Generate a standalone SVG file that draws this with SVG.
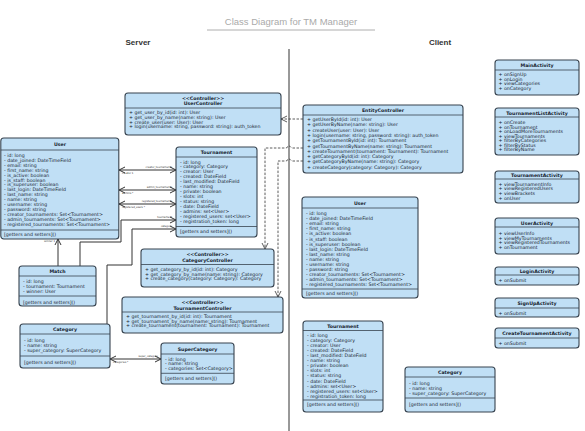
<svg xmlns="http://www.w3.org/2000/svg" width="585" height="431" viewBox="0 0 585 431">
<style>
.box{fill:#c0dff5;stroke:#37434f;stroke-width:1.1}
.sep{stroke:#37434f;stroke-width:0.8}
.t{font-family:"DejaVu Sans",sans-serif;font-size:4.7px;fill:#16222e}
.h{font-weight:bold;text-anchor:middle}
.rel{fill:none;stroke:#333;stroke-width:1}
.dep{fill:none;stroke:#333;stroke-width:0.8;stroke-dasharray:2.5,1.5}
.lbl{font-family:"DejaVu Sans Condensed","DejaVu Sans",sans-serif;font-size:2.8px;fill:#333}
</style>
<defs>
<marker id="oa" markerUnits="userSpaceOnUse" markerWidth="8" markerHeight="8" refX="6" refY="3" orient="auto-start-reverse" viewBox="-1 -1 8 8">
<path d="M0,0 L6,3 L0,6" fill="none" stroke="#333" stroke-width="1"/>
</marker>
<marker id="da" markerUnits="userSpaceOnUse" markerWidth="8" markerHeight="8" refX="6" refY="3" orient="auto" viewBox="-1 -1 8 8">
<path d="M0,0 L6,3 L0,6" fill="none" stroke="#333" stroke-width="0.8"/>
</marker>
</defs>
<rect width="585" height="431" fill="#fff"/>
<text x="291" y="25" text-anchor="middle" font-family="Liberation Sans, sans-serif" font-size="9.5" fill="#aaa">Class Diagram for TM Manager</text>
<line x1="207" y1="30" x2="375" y2="30" stroke="#999" stroke-width="0.8"/>
<text x="138" y="45" text-anchor="middle" font-family="Liberation Sans, sans-serif" font-size="8" font-weight="bold" fill="#333">Server</text>
<text x="440" y="45" text-anchor="middle" font-family="Liberation Sans, sans-serif" font-size="8" font-weight="bold" fill="#333">Client</text>
<line x1="289" y1="49" x2="289" y2="431" stroke="#333" stroke-width="1"/>

<g id="connectors">
<path class="rel" d="M119,170 H176" marker-start="url(#oa)" marker-end="url(#oa)"/>
<path class="rel" d="M119,190 H176" marker-start="url(#oa)" marker-end="url(#oa)"/>
<path class="rel" d="M119,204 H176" marker-start="url(#oa)" marker-end="url(#oa)"/>
<text class="lbl" x="172" y="168" text-anchor="end">creator_tournaments</text>
<text class="lbl" x="122" y="174">creator 1</text>
<text class="lbl" x="172" y="188" text-anchor="end">admin_tournaments</text>
<text class="lbl" x="122" y="194">admins *</text>
<text class="lbl" x="172" y="202" text-anchor="end">registered_tournaments</text>
<text class="lbl" x="122" y="208">registered_users *</text>
<path class="rel" d="M58,266 V239" marker-end="url(#oa)"/>
<text class="lbl" x="55" y="242" text-anchor="end">winner 1</text>
<path class="rel" d="M80,266 V242 H121 V220 H176" marker-end="url(#oa)"/>
<text class="lbl" x="172" y="218" text-anchor="end">tournament</text>
<path class="rel" d="M107,324 V265 H132 V229 H176" marker-end="url(#oa)"/>
<text class="lbl" x="172" y="227" text-anchor="end">category</text>
<path class="rel" d="M110,359 H161" marker-start="url(#oa)" marker-end="url(#oa)"/>
<text class="lbl" x="158" y="357" text-anchor="end">super_category</text>
<text class="lbl" x="113" y="363">categories *</text>
<path class="dep" d="M303,119 H281" marker-end="url(#da)"/>
<path class="dep" d="M303,148 H291.5 Q289,144 286.5,148 H265 V249" marker-end="url(#da)"/>
<path class="dep" d="M303,161 H291.5 Q289,157 286.5,161 H278 V297" marker-end="url(#da)"/>
</g>

<g id="UserController">
<rect class="box" x="125" y="93" width="156" height="42" rx="3"/>
<line class="sep" x1="125" y1="108" x2="281" y2="108"/>
<text class="t h" x="203" y="99.5" font-weight="normal">&lt;&lt;Controller&gt;&gt;</text>
<text class="t h" x="203" y="105">UserController</text>
<text class="t" x="129" y="114">+ get_user_by_id(id: int): User</text>
<text class="t" x="129" y="118.8">+ get_user_by_name(name: string): User</text>
<text class="t" x="129" y="123.6">+ create_user(user: User): User</text>
<text class="t" x="129" y="128.4">+ login(username: string, password: string): auth_token</text>
</g>

<g id="User_server">
<rect class="box" x="0.8" y="138" width="118" height="101" rx="3"/>
<line class="sep" x1="0.8" y1="150" x2="118.8" y2="150"/>
<line class="sep" x1="0.8" y1="230" x2="118.8" y2="230"/>
<text class="t h" x="60" y="146">User</text>
<text class="t" x="4" y="156.8">- id: long</text>
<text class="t" x="4" y="161.7">- date_joined: DateTimeField</text>
<text class="t" x="4" y="166.7">- email: string</text>
<text class="t" x="4" y="171.6">- first_name: string</text>
<text class="t" x="4" y="176.5">- is_active: boolean</text>
<text class="t" x="4" y="181.5">- is_staff: boolean</text>
<text class="t" x="4" y="186.4">- is_superuser: boolean</text>
<text class="t" x="4" y="191.3">- last_login: DateTimeField</text>
<text class="t" x="4" y="196.2">- last_name: string</text>
<text class="t" x="4" y="201.2">- name: string</text>
<text class="t" x="4" y="206.1">- username: string</text>
<text class="t" x="4" y="211">- password: string</text>
<text class="t" x="4" y="216">- creator_tournaments: Set&lt;Tournament&gt;</text>
<text class="t" x="4" y="220.9">- admin_tournaments: Set&lt;Tournament&gt;</text>
<text class="t" x="4" y="225.8">- registered_tournaments: Set&lt;Tournament&gt;</text>
<text class="t" x="4" y="236">[getters and setters]()</text>
</g>

<g id="Tournament_server">
<rect class="box" x="176" y="147" width="81" height="90" rx="3"/>
<line class="sep" x1="176" y1="157" x2="257" y2="157"/>
<line class="sep" x1="176" y1="226.5" x2="257" y2="226.5"/>
<text class="t h" x="216.5" y="154">Tournament</text>
<text class="t" x="180" y="163.5">- id: long</text>
<text class="t" x="180" y="168.4">- category: Category</text>
<text class="t" x="180" y="173.4">- creator: User</text>
<text class="t" x="180" y="178.3">- created: DateField</text>
<text class="t" x="180" y="183.3">- last_modified: DateField</text>
<text class="t" x="180" y="188.2">- name: string</text>
<text class="t" x="180" y="193.1">- private: boolean</text>
<text class="t" x="180" y="198.1">- slots: int</text>
<text class="t" x="180" y="203">- status: string</text>
<text class="t" x="180" y="208">- date: DateField</text>
<text class="t" x="180" y="212.9">- admins: set&lt;User&gt;</text>
<text class="t" x="180" y="217.8">- registered_users: set&lt;User&gt;</text>
<text class="t" x="180" y="222.8">- registration_token: long</text>
<text class="t" x="180" y="232.5">[getters and setters]()</text>
</g>

<g id="CategoryController">
<rect class="box" x="141" y="249" width="133" height="38" rx="3"/>
<line class="sep" x1="141" y1="264.5" x2="274" y2="264.5"/>
<text class="t h" x="207.5" y="255.8" font-weight="normal">&lt;&lt;Controller&gt;&gt;</text>
<text class="t h" x="207.5" y="261.8">CategoryController</text>
<text class="t" x="145" y="271">+ get_category_by_id(id: int): Category</text>
<text class="t" x="145" y="275.7">+ get_category_by_name(name: string): Category</text>
<text class="t" x="145" y="280.4">+ create_category(category: Category): Category</text>
</g>

<g id="TournamentController">
<rect class="box" x="122" y="297" width="161" height="36" rx="3"/>
<line class="sep" x1="122" y1="312" x2="283" y2="312"/>
<text class="t h" x="202.5" y="303.5" font-weight="normal">&lt;&lt;Controller&gt;&gt;</text>
<text class="t h" x="202.5" y="309.5">TournamentController</text>
<text class="t" x="126" y="318">+ get_tournament_by_id(id: int): Tournament</text>
<text class="t" x="126" y="322.7">+ get_tournament_by_name(name: string): Tournament</text>
<text class="t" x="126" y="327.4">+ create_tournament(tournament: Tournament): Tournament</text>
</g>

<g id="Match">
<rect class="box" x="19" y="266" width="77" height="40" rx="3"/>
<line class="sep" x1="19" y1="276" x2="96" y2="276"/>
<line class="sep" x1="19" y1="296" x2="96" y2="296"/>
<text class="t h" x="57.5" y="272.8">Match</text>
<text class="t" x="23" y="282.8">- id: long</text>
<text class="t" x="23" y="287.8">- tournament: Tournament</text>
<text class="t" x="23" y="292.8">- winner: User</text>
<text class="t" x="23" y="303.5">[getters and setters]()</text>
</g>

<g id="Category_server">
<rect class="box" x="20" y="324" width="90" height="44" rx="3"/>
<line class="sep" x1="20" y1="334" x2="110" y2="334"/>
<line class="sep" x1="20" y1="356" x2="110" y2="356"/>
<text class="t h" x="65" y="330.8">Category</text>
<text class="t" x="24" y="341.8">- id: long</text>
<text class="t" x="24" y="346.8">- name: string</text>
<text class="t" x="24" y="351.8">- super_category: SuperCategory</text>
<text class="t" x="24" y="363.5">[getters and setters]()</text>
</g>

<g id="SuperCategory">
<rect class="box" x="161" y="343" width="73" height="41" rx="3"/>
<line class="sep" x1="161" y1="354" x2="234" y2="354"/>
<line class="sep" x1="161" y1="373.3" x2="234" y2="373.3"/>
<text class="t h" x="197.5" y="350.8">SuperCategory</text>
<text class="t" x="165" y="360.5">- id: long</text>
<text class="t" x="165" y="365">- name: string</text>
<text class="t" x="165" y="370">- categories: Set&lt;Category&gt;</text>
<text class="t" x="165" y="379.5">[getters and setters]()</text>
</g>

<g id="EntityController">
<rect class="box" x="303" y="105" width="160" height="68" rx="3"/>
<line class="sep" x1="303" y1="115" x2="463" y2="115"/>
<text class="t h" x="383" y="112">EntityController</text>
<text class="t" x="307" y="121">+ getUserById(id: int): User</text>
<text class="t" x="307" y="126.3">+ getUserByName(name: string): User</text>
<text class="t" x="307" y="131.6">+ createUser(user: User): User</text>
<text class="t" x="307" y="136.9">+ login(username: string, password: string): auth_token</text>
<text class="t" x="307" y="142.2">+ getTournamentById(id: int): Tournament</text>
<text class="t" x="307" y="147.5">+ getTournamentByName(name: string): Tournament</text>
<text class="t" x="307" y="152.8">+ createTournament(tournament: Tournament): Tournament</text>
<text class="t" x="307" y="158.1">+ getCategoryById(id: int): Category</text>
<text class="t" x="307" y="163.4">+ getCategoryByName(name: string): Category</text>
<text class="t" x="307" y="168.7">+ createCategory(category: Category): Category</text>
</g>

<g id="User_client">
<rect class="box" x="302" y="197" width="116" height="101" rx="3"/>
<line class="sep" x1="302" y1="208" x2="418" y2="208"/>
<line class="sep" x1="302" y1="289" x2="418" y2="289"/>
<text class="t h" x="360" y="204.8">User</text>
<text class="t" x="306" y="215.1">- id: long</text>
<text class="t" x="306" y="220.2">- date_joined: DateTimeField</text>
<text class="t" x="306" y="225.2">- email: string</text>
<text class="t" x="306" y="230.3">- first_name: string</text>
<text class="t" x="306" y="235.4">- is_active: boolean</text>
<text class="t" x="306" y="240.5">- is_staff: boolean</text>
<text class="t" x="306" y="245.5">- is_superuser: boolean</text>
<text class="t" x="306" y="250.6">- last_login: DateTimeField</text>
<text class="t" x="306" y="255.7">- last_name: string</text>
<text class="t" x="306" y="260.7">- name: string</text>
<text class="t" x="306" y="265.8">- username: string</text>
<text class="t" x="306" y="270.9">- password: string</text>
<text class="t" x="306" y="275.9">- creator_tournaments: Set&lt;Tournament&gt;</text>
<text class="t" x="306" y="281">- admin_tournaments: Set&lt;Tournament&gt;</text>
<text class="t" x="306" y="286.1">- registered_tournaments: Set&lt;Tournament&gt;</text>
<text class="t" x="306" y="295">[getters and setters]()</text>
</g>

<g id="Tournament_client">
<rect class="box" x="303" y="321" width="80" height="91" rx="3"/>
<line class="sep" x1="303" y1="330.5" x2="383" y2="330.5"/>
<line class="sep" x1="303" y1="400" x2="383" y2="400"/>
<text class="t h" x="343" y="327.8">Tournament</text>
<text class="t" x="307" y="336.8">- id: long</text>
<text class="t" x="307" y="341.9">- category: Category</text>
<text class="t" x="307" y="347">- creator: User</text>
<text class="t" x="307" y="352">- created: DateField</text>
<text class="t" x="307" y="357.1">- last_modified: DateField</text>
<text class="t" x="307" y="362.2">- name: string</text>
<text class="t" x="307" y="367.3">- private: boolean</text>
<text class="t" x="307" y="372.4">- slots: int</text>
<text class="t" x="307" y="377.4">- status: string</text>
<text class="t" x="307" y="382.5">- date: DateField</text>
<text class="t" x="307" y="387.6">- admins: set&lt;User&gt;</text>
<text class="t" x="307" y="392.7">- registered_users: set&lt;User&gt;</text>
<text class="t" x="307" y="397.8">- registration_token: long</text>
<text class="t" x="307" y="406">[getters and setters]()</text>
</g>

<g id="Category_client">
<rect class="box" x="405" y="367" width="90" height="45" rx="3"/>
<line class="sep" x1="405" y1="377" x2="495" y2="377"/>
<line class="sep" x1="405" y1="398" x2="495" y2="398"/>
<text class="t h" x="450" y="373.8">Category</text>
<text class="t" x="409" y="385">- id: long</text>
<text class="t" x="409" y="389.8">- name: string</text>
<text class="t" x="409" y="394.8">- super_category: SuperCategory</text>
<text class="t" x="409" y="405.5">[getters and setters]()</text>
</g>

<g id="MainActivity">
<rect class="box" x="495" y="60" width="84" height="35" rx="3"/>
<line class="sep" x1="495" y1="70" x2="579" y2="70"/>
<text class="t h" x="537" y="66.8">MainActivity</text>
<text class="t" x="498.5" y="76">+ onSignUp</text>
<text class="t" x="498.5" y="80.5">+ onLogin</text>
<text class="t" x="498.5" y="85">+ viewCategories</text>
<text class="t" x="498.5" y="89.5">+ onCategory</text>
</g>

<g id="TournamentListActivity">
<rect class="box" x="495" y="108" width="84" height="47" rx="3"/>
<line class="sep" x1="495" y1="117" x2="579" y2="117"/>
<text class="t h" x="537" y="114.8">TournamentListActivity</text>
<text class="t" x="498.5" y="124">+ onCreate</text>
<text class="t" x="498.5" y="128.5">+ onTournament</text>
<text class="t" x="498.5" y="133">+ onLoadMoreTournaments</text>
<text class="t" x="498.5" y="137.5">+ viewTournaments</text>
<text class="t" x="498.5" y="142">+ filterByCategories</text>
<text class="t" x="498.5" y="146.5">+ filterByStatus</text>
<text class="t" x="498.5" y="151">+ filterByName</text>
</g>

<g id="TournamentActivity">
<rect class="box" x="495" y="171" width="84" height="32" rx="3"/>
<line class="sep" x1="495" y1="179" x2="579" y2="179"/>
<text class="t h" x="537" y="176.8">TournamentActivity</text>
<text class="t" x="498.5" y="185.8">+ viewTournamentInfo</text>
<text class="t" x="498.5" y="190.4">+ viewRegisteredUsers</text>
<text class="t" x="498.5" y="195">+ viewBrackets</text>
<text class="t" x="498.5" y="199.6">+ onUser</text>
</g>

<g id="UserActivity">
<rect class="box" x="495" y="218" width="84" height="36" rx="3"/>
<line class="sep" x1="495" y1="227" x2="579" y2="227"/>
<text class="t h" x="537" y="224.8">UserActivity</text>
<text class="t" x="498.5" y="234.8">+ viewUserInfo</text>
<text class="t" x="498.5" y="239.6">+ viewMyTournaments</text>
<text class="t" x="498.5" y="244.4">+ viewRegisteredTournaments</text>
<text class="t" x="498.5" y="249.2">+ onTournament</text>
</g>

<g id="LoginActivity">
<rect class="box" x="495" y="267" width="84" height="18" rx="3"/>
<line class="sep" x1="495" y1="275" x2="579" y2="275"/>
<text class="t h" x="537" y="272.8">LoginActivity</text>
<text class="t" x="498.5" y="282">+ onSubmit</text>
</g>

<g id="SignUpActivity">
<rect class="box" x="495" y="298" width="84" height="19" rx="3"/>
<line class="sep" x1="495" y1="308" x2="579" y2="308"/>
<text class="t h" x="537" y="304.8">SignUpActivity</text>
<text class="t" x="498.5" y="314.5">+ onSubmit</text>
</g>

<g id="CreateTournamentActivity">
<rect class="box" x="495" y="328" width="84" height="20" rx="3"/>
<line class="sep" x1="495" y1="338" x2="579" y2="338"/>
<text class="t h" x="537" y="334.8">CreateTournamentActivity</text>
<text class="t" x="498.5" y="344.5">+ onSubmit</text>
</g>
</svg>
